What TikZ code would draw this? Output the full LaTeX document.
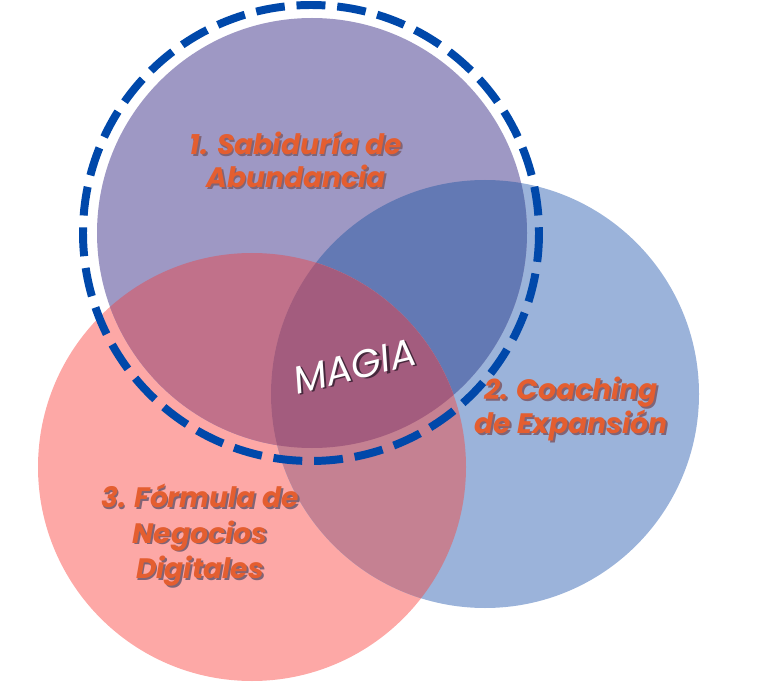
\documentclass[tikz,border=0pt]{standalone}
\usepackage{fontspec}
\usepackage{tikz}
\newfontfamily\vennfont{Poppins}
\definecolor{lilac}{RGB}{158,152,196}
\definecolor{skyblue}{RGB}{155,179,218}
\definecolor{salmon}{RGB}{253,168,166}
\definecolor{lilacsky}{RGB}{99,121,180}
\definecolor{lilacsalmon}{RGB}{193,113,138}
\definecolor{skysalmon}{RGB}{197,129,146}
\definecolor{allthree}{RGB}{163,92,126}
\definecolor{ringblue}{RGB}{0,72,170}
\definecolor{labelorange}{RGB}{228,94,48}
\definecolor{labelshadow}{RGB}{128,100,118}
\definecolor{magicshadow}{RGB}{70,40,60}
% text with a soft drop shadow, lines centred
\newcommand{\shadowed}[2]{\leavevmode
\rlap{\raisebox{-1.6pt}{\kern1.6pt\textcolor{#2}{\begin{tabular}[b]{@{}c@{}}#1\end{tabular}}}}%
\begin{tabular}[b]{@{}c@{}}#1\end{tabular}}
\begin{document}
\begin{tikzpicture}[x=0.03cm,y=-0.03cm]
\tikzstyle{labeltext}=[text=labelorange,font=\vennfont\bfseries\itshape\fontsize{24}{28}\selectfont,inner sep=0pt]
\tikzstyle{magictext}=[text=white,font=\vennfont\itshape\fontsize{33}{36}\selectfont,inner sep=0pt,rotate=14]
\useasboundingbox (0,0) rectangle (760,683);
% plain circles
\fill [salmon] (252,467) circle (214);
\fill [skyblue] (485,394) circle (214);
\fill [lilac] (312,233) circle (215);
% overlaps
\begin{scope}
\clip (312,233) circle (215);
\fill [lilacsky] (485,394) circle (214);
\fill [lilacsalmon] (252,467) circle (214);
\end{scope}
\begin{scope}
\clip (485,394) circle (214);
\fill [skysalmon] (252,467) circle (214);
\end{scope}
\begin{scope}
\clip (312,233) circle (215);
\clip (485,394) circle (214);
\fill [allthree] (252,467) circle (214);
\end{scope}
% dashed ring
\draw [ringblue,line width=6.8pt,dash pattern=on 24.7pt off 10.1pt] (311,233) circle (228);
% labels
\node[labeltext] (wisdom) at (296,165) {\shadowed{1. Sabiduría de\\Abundancia}{labelshadow}};
\node[labeltext] (coaching) at (571,411) {\shadowed{2. Coaching\\de Expansión}{labelshadow}};
\node[labeltext,font=\vennfont\bfseries\itshape\fontsize{24}{30}\selectfont] (formula) at (200,537) {\shadowed{3. Fórmula de\\Negocios\\Digitales}{labelshadow}};
\node[magictext] (magic) at (356,372) {\shadowed{MAGIA}{magicshadow}};
\end{tikzpicture}
\end{document}
